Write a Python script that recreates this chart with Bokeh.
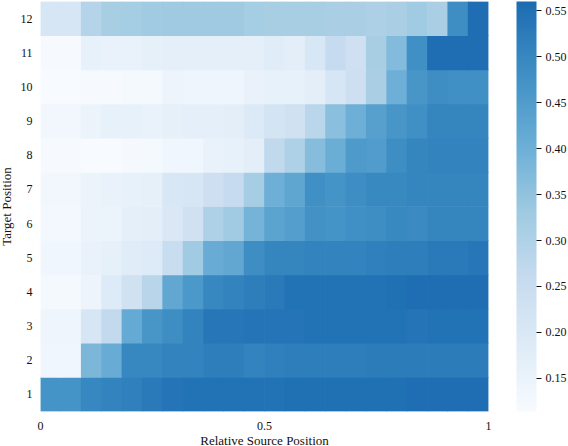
from bokeh.embed import file_html
from bokeh.resources import INLINE
from bokeh.plotting import figure
from bokeh.models import LinearColorMapper, ColorBar, FixedTicker, ColumnDataSource, NumeralTickFormatter
from bokeh.palettes import Blues256
from bokeh.transform import transform

# rows: target position, columns: 22 relative source position bins
target_1  = [.470,.470,.500,.510,.515,.530,.540,.545,.545,.545,.545,.545,.550,.550,.550,.550,.550,.550,.555,.555,.555,.555]
target_2  = [.135,.135,.380,.410,.500,.500,.510,.510,.520,.520,.510,.515,.520,.520,.520,.520,.525,.525,.525,.525,.525,.525]
target_3  = [.140,.140,.210,.265,.415,.465,.485,.510,.535,.535,.540,.540,.540,.545,.545,.545,.545,.545,.540,.545,.545,.545]
target_4  = [.125,.125,.145,.190,.230,.285,.420,.460,.500,.510,.520,.530,.545,.545,.545,.545,.545,.550,.555,.555,.555,.555]
target_5  = [.135,.135,.155,.165,.180,.190,.250,.325,.410,.420,.485,.505,.505,.510,.510,.510,.515,.520,.520,.530,.530,.535]
target_6  = [.128,.128,.150,.148,.170,.175,.200,.230,.300,.325,.390,.430,.445,.475,.470,.480,.485,.495,.490,.505,.505,.505]
target_7  = [.130,.130,.150,.155,.160,.165,.205,.210,.240,.260,.320,.400,.425,.480,.470,.485,.495,.495,.505,.505,.505,.505]
target_8  = [.118,.118,.115,.115,.122,.125,.135,.135,.155,.160,.175,.270,.300,.365,.405,.455,.450,.485,.505,.510,.510,.510]
target_9  = [.130,.130,.150,.160,.160,.155,.165,.170,.170,.175,.195,.220,.230,.280,.360,.400,.440,.465,.480,.505,.505,.505]
target_10 = [.115,.115,.118,.118,.125,.125,.145,.140,.140,.140,.155,.160,.160,.175,.210,.240,.310,.400,.465,.485,.480,.480]
target_11 = [.118,.118,.160,.155,.155,.165,.170,.170,.170,.170,.170,.180,.175,.205,.260,.235,.315,.370,.480,.555,.555,.555]
target_12 = [.210,.210,.290,.315,.320,.325,.330,.330,.330,.330,.320,.315,.315,.315,.310,.310,.305,.310,.325,.310,.485,.555]
rows = [target_1, target_2, target_3, target_4, target_5, target_6, target_7, target_8, target_9, target_10, target_11, target_12]

x_ticks = [0, 0.5, 1]
x_tick_labels = ["0", "0.5", "1"]
y_ticks = list(range(1, 13))
bar_ticks = [0.15, 0.20, 0.25, 0.30, 0.35, 0.40, 0.45, 0.50, 0.55]
v_min, v_max = 0.114, 0.56

serif = "Liberation Serif"
n = len(target_1)
xs, ys, vals = [], [], []
for r, row in enumerate(rows):
    for c, v in enumerate(row):
        xs.append((c + 0.5) / n)
        ys.append(r + 1)
        vals.append(v)
src = ColumnDataSource(dict(x=xs, y=ys, v=vals))

palette = list(reversed(Blues256))[:197]
mapper = LinearColorMapper(palette=palette, low=v_min, high=v_max)

p = figure(width=574, height=446, x_range=(0, 1), y_range=(0.5, 12.5),
           output_backend="svg", toolbar_location=None,
           min_border_left=46, min_border_right=0, min_border_top=1, min_border_bottom=35,
           outline_line_color=None, background_fill_color="white")
p.styles = {"position": "absolute", "left": "-6px", "top": "0px"}
p.frame_width = 448
p.frame_height = 410
p.rect("x", "y", width=1 / n + 0.0015, height=1.02, source=src,
       fill_color=transform("v", mapper), line_color=None)
p.grid.visible = False

p.xaxis.ticker = FixedTicker(ticks=x_ticks)
p.xaxis.major_label_overrides = dict(zip(x_ticks, x_tick_labels))
p.yaxis.ticker = FixedTicker(ticks=y_ticks)
for ax, label in ((p.xaxis, "Relative Source Position"), (p.yaxis, "Target Position")):
    ax.axis_label = label
    ax.axis_label_text_font = serif
    ax.axis_label_text_font_style = "normal"
    ax.axis_label_text_font_size = "13px"
    ax.axis_label_text_color = "#111111"
    ax.major_label_text_font = serif
    ax.major_label_text_font_size = "12px"
    ax.major_label_text_color = "#111111"
    ax.axis_line_color = None
    ax.major_tick_line_color = None
    ax.minor_tick_line_color = None
    ax.major_tick_out = 0
    ax.major_tick_in = 0
p.yaxis.major_label_standoff = 8
p.xaxis.major_label_standoff = 10
p.yaxis.axis_label_standoff = 4
p.xaxis.axis_label_standoff = 0

cb = ColorBar(color_mapper=mapper, ticker=FixedTicker(ticks=bar_ticks),
              formatter=NumeralTickFormatter(format="0.00"),
              width=20, height=410, padding=0, margin=0, location=(28, 0),
              major_tick_line_color="#111111", major_tick_out=5, major_tick_in=0,
              minor_tick_line_color=None, bar_line_color=None, border_line_color=None,
              major_label_text_font=serif, major_label_text_font_size="12px",
              major_label_text_color="#111111", label_standoff=4, background_fill_color=None)
p.add_layout(cb, "right")

open("out.html", "w").write(file_html(p, INLINE))
